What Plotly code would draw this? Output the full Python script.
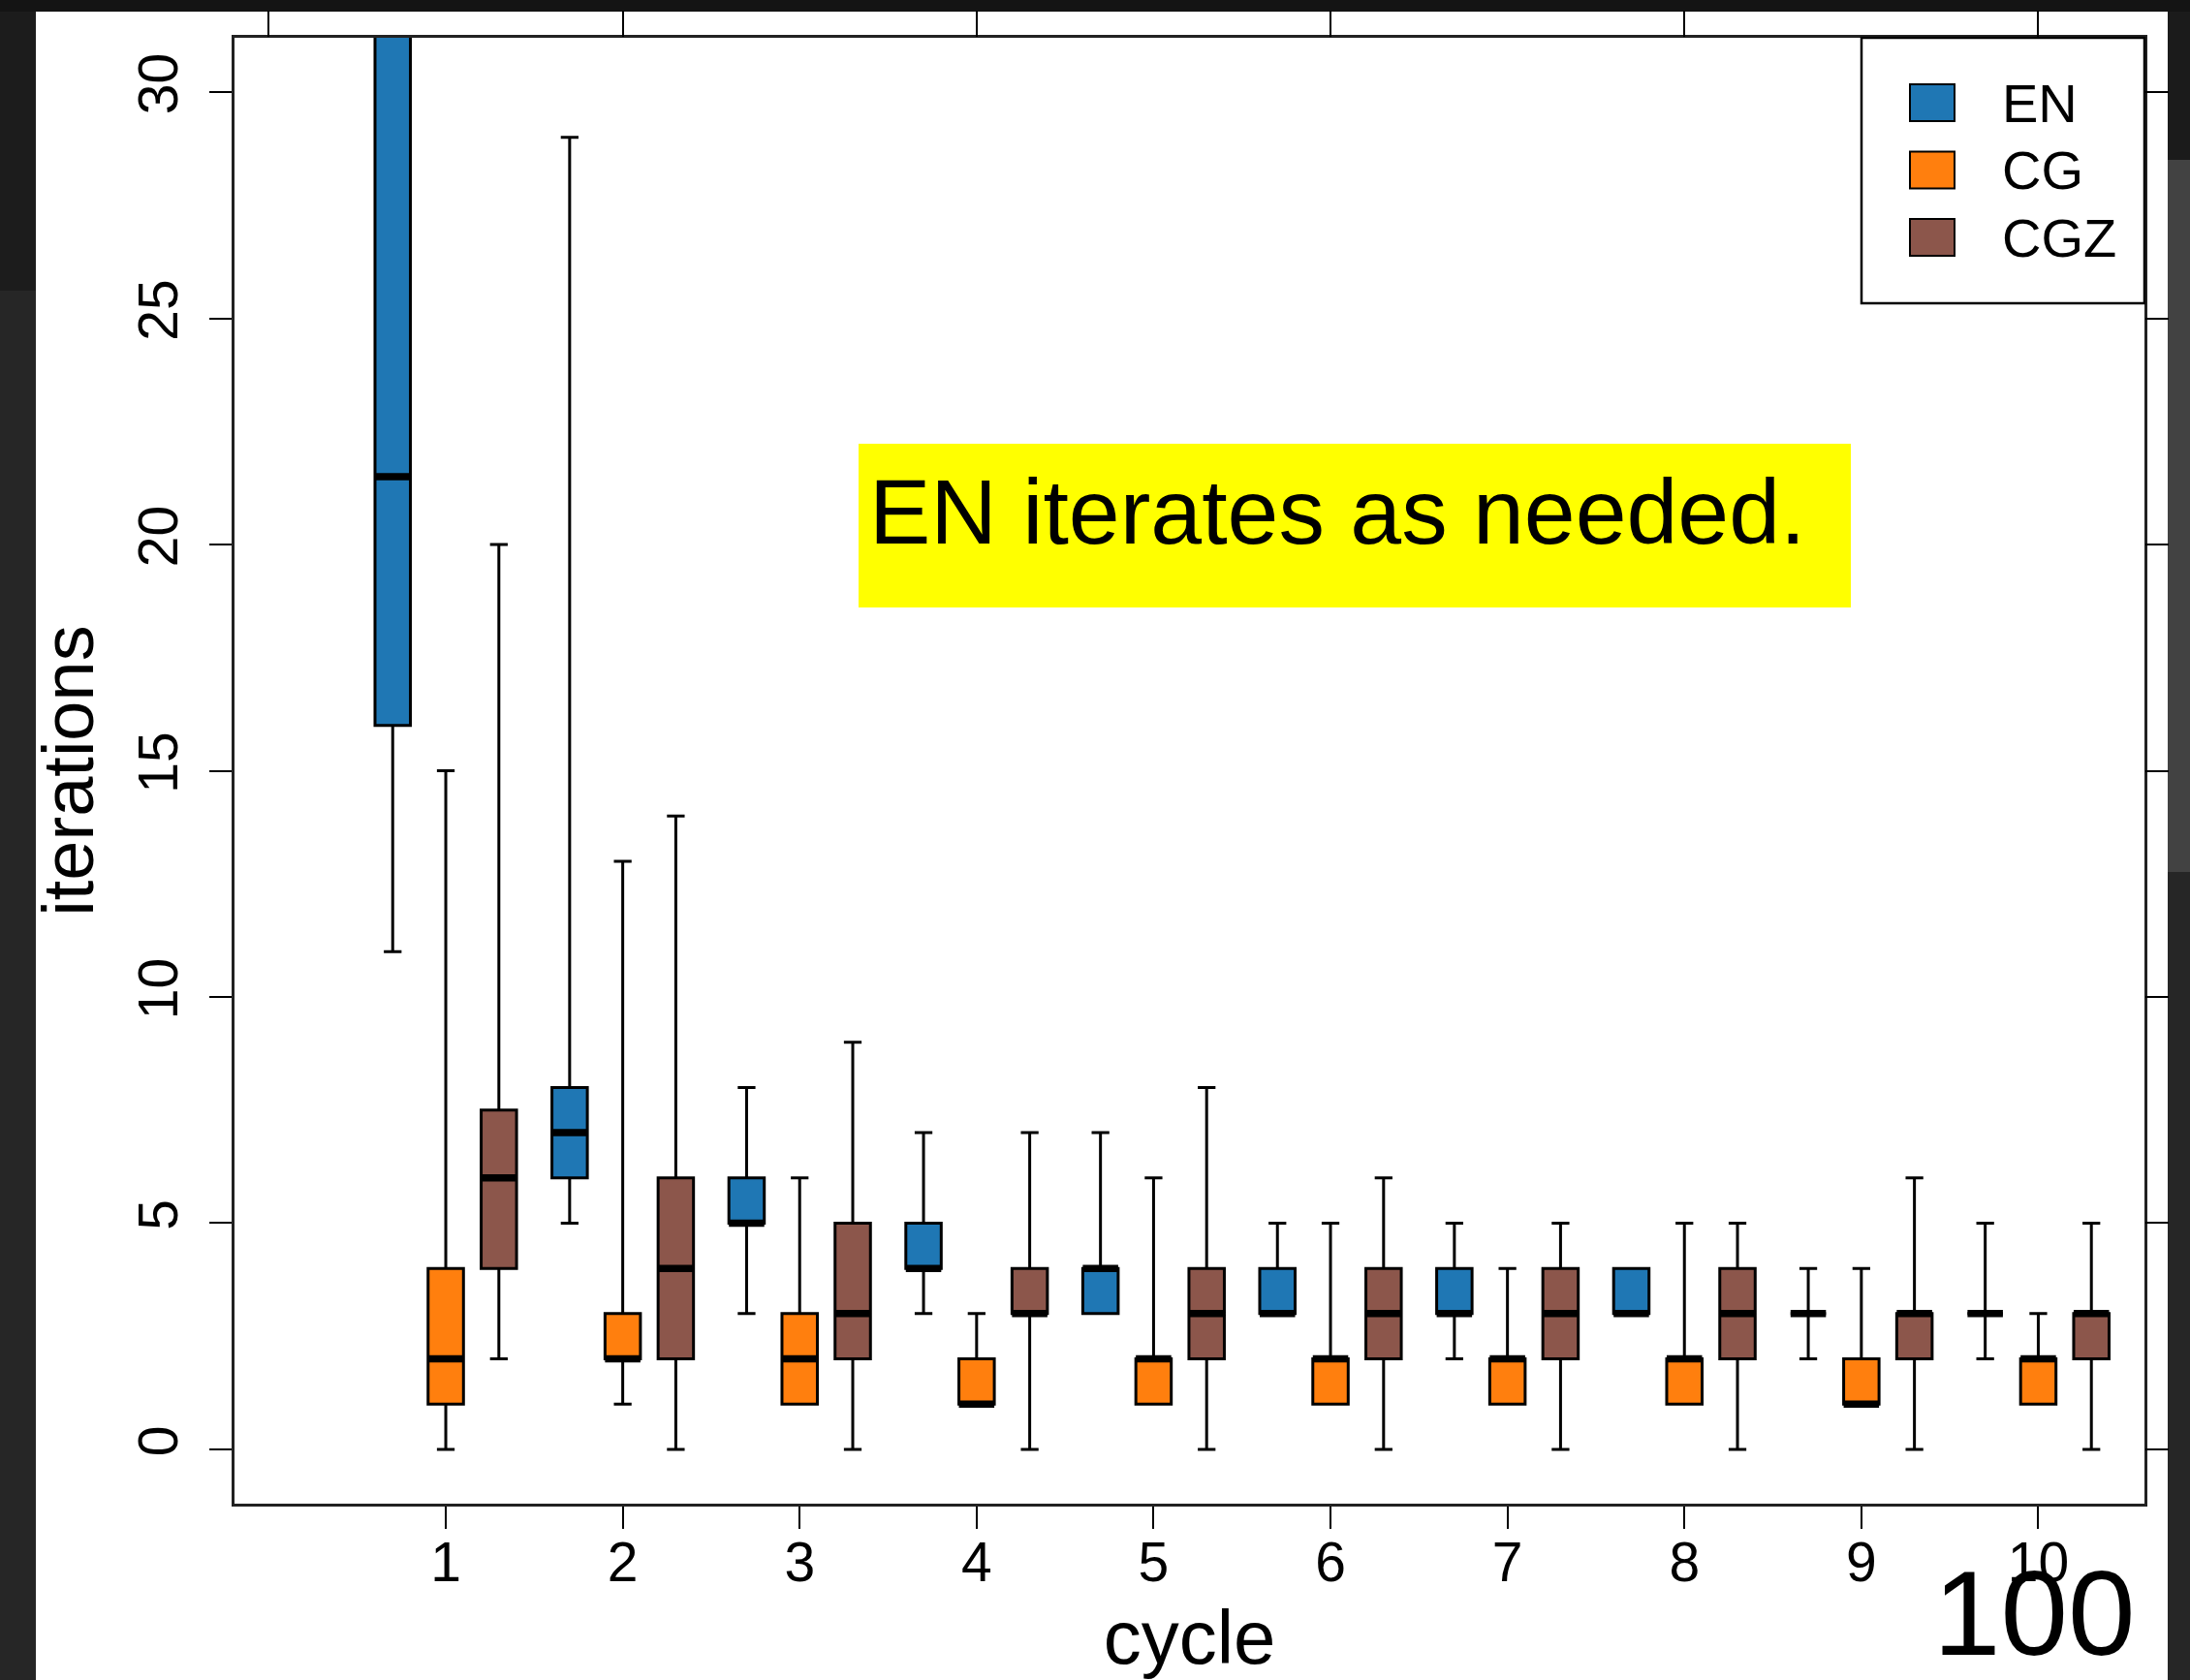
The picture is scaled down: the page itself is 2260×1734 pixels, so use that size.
import plotly.graph_objects as go

# ---- data: iteration counts per cycle, summarised as box statistics ----
cycles = [1, 2, 3, 4, 5, 6, 7, 8, 9, 10]
series = ["EN", "CG", "CGZ"]
colors = ["#1f77b4", "#ff7f0e", "#8c564b"]
offsets = [-0.3, 0.0, 0.3]

en_min = [11, 5, 3, 3, 3, 3, 2, 3, 2, 2]
en_q1 = [16, 6, 5, 4, 3, 3, 3, 3, 3, 3]
en_med = [21.5, 7, 5, 4, 4, 3, 3, 3, 3, 3]
en_q3 = [34, 8, 6, 5, 4, 4, 4, 4, 3, 3]
en_max = [40, 29, 8, 7, 7, 5, 5, 4, 4, 5]

cg_min = [0, 1, 1, 1, 1, 1, 1, 1, 1, 1]
cg_q1 = [1, 2, 1, 1, 1, 1, 1, 1, 1, 1]
cg_med = [2, 2, 2, 1, 2, 2, 2, 2, 1, 2]
cg_q3 = [4, 3, 3, 2, 2, 2, 2, 2, 2, 2]
cg_max = [15, 13, 6, 3, 6, 5, 4, 5, 4, 3]

cgz_min = [2, 0, 0, 0, 0, 0, 0, 0, 0, 0]
cgz_q1 = [4, 2, 2, 3, 2, 2, 2, 2, 2, 2]
cgz_med = [6, 4, 3, 3, 3, 3, 3, 3, 3, 3]
cgz_q3 = [7.5, 6, 5, 4, 4, 4, 4, 4, 3, 3]
cgz_max = [20, 14, 9, 7, 8, 6, 5, 5, 6, 5]

x_ticks = [1, 2, 3, 4, 5, 6, 7, 8, 9, 10]
y_ticks = [0, 5, 10, 15, 20, 25, 30]
top_ticks = [0, 2, 4, 6, 8, 10]
x_range = [-0.194, 10.6]
y_range = [-1.2, 31.2]

stats = {
    "EN": (en_min, en_q1, en_med, en_q3, en_max),
    "CG": (cg_min, cg_q1, cg_med, cg_q3, cg_max),
    "CGZ": (cgz_min, cgz_q1, cgz_med, cgz_q3, cgz_max),
}

# ---- canvas geometry (pixels) ----
W, H = 2260, 1734
PL, PR, PT, PB = 242, 2213, 39, 1552
BOX_W = 0.2
FONT = "Liberation Sans, Arial, Helvetica, sans-serif"


def px_x(px):
    return (px - PL) / (PR - PL)


def px_y(py):
    return (PB - py) / (PB - PT)


fig = go.Figure()

for name, color, off in zip(series, colors, offsets):
    lo, q1, med, q3, hi = stats[name]
    pos = [c + off for c in cycles]
    fig.add_trace(go.Box(
        x=pos, q1=q1, median=med, q3=q3, lowerfence=lo, upperfence=hi,
        name=name, width=BOX_W, whiskerwidth=0.5, boxpoints=False,
        fillcolor=color, line=dict(color="black", width=3),
        showlegend=False, hoverinfo="skip",
    ))

# heavy median bars drawn over each box
for name, off in zip(series, offsets):
    med = stats[name][2]
    mx, my = [], []
    for c, m in zip(cycles, med):
        mx += [c + off - BOX_W / 2, c + off + BOX_W / 2, None]
        my += [m, m, None]
    fig.add_trace(go.Scatter(
        x=mx, y=my, mode="lines", line=dict(color="black", width=7.5),
        showlegend=False, hoverinfo="skip",
    ))

# empty trace so the secondary (tick-only) axes are laid out
fig.add_trace(go.Scatter(x=[], y=[], xaxis="x2", yaxis="y2",
                         showlegend=False, hoverinfo="skip"))

shapes = [
    # slide background bands
    dict(type="rect", xref="paper", yref="paper", layer="below",
         x0=px_x(0), x1=px_x(W), y0=px_y(12), y1=px_y(0),
         fillcolor="#141414", line=dict(width=0)),
    dict(type="rect", xref="paper", yref="paper", layer="below",
         x0=px_x(2237), x1=px_x(W), y0=px_y(900), y1=px_y(165),
         fillcolor="#424242", line=dict(width=0)),
    dict(type="rect", xref="paper", yref="paper", layer="below",
         x0=px_x(2237), x1=px_x(W), y0=px_y(165), y1=px_y(12),
         fillcolor="#1b1b1b", line=dict(width=0)),
    dict(type="rect", xref="paper", yref="paper", layer="below",
         x0=px_x(0), x1=px_x(37), y0=px_y(300), y1=px_y(12),
         fillcolor="#1c1c1c", line=dict(width=0)),
    # white slide area
    dict(type="rect", xref="paper", yref="paper", layer="below",
         x0=px_x(37), x1=px_x(2237), y0=px_y(H + 5), y1=px_y(12),
         fillcolor="white", line=dict(width=0)),
    # highlighted note
    dict(type="rect", xref="paper", yref="paper", layer="above",
         x0=px_x(886), x1=px_x(1910), y0=px_y(627), y1=px_y(458),
         fillcolor="#ffff00", line=dict(width=0)),
    # legend frame
    dict(type="rect", xref="paper", yref="paper", layer="above",
         x0=px_x(1921), x1=1, y0=px_y(313), y1=1,
         fillcolor="white", line=dict(color="black", width=2.5)),
]

annotations = [
    dict(text="EN iterates as needed.", xref="paper", yref="paper",
         x=px_x(895), y=px_y(528), xanchor="left", yanchor="middle",
         showarrow=False, font=dict(family=FONT, size=95, color="black")),
    dict(text="100", xref="paper", yref="paper",
         x=px_x(2206), y=px_y(1664), xanchor="right", yanchor="middle",
         showarrow=False, font=dict(family=FONT, size=125, color="black")),
]

# legend swatches and labels
for i, (name, color) in enumerate(zip(series, colors)):
    cy = 106 + 69.5 * i
    shapes.append(dict(type="rect", xref="paper", yref="paper", layer="above",
                       x0=px_x(1971), x1=px_x(2017),
                       y0=px_y(cy + 19), y1=px_y(cy - 19),
                       fillcolor=color, line=dict(color="black", width=2)))
    annotations.append(dict(text=name, xref="paper", yref="paper",
                            x=px_x(2064), y=px_y(cy), xanchor="left",
                            yanchor="middle", showarrow=False,
                            font=dict(family=FONT, size=56, color="black")))

fig.update_layout(
    width=W, height=H,
    margin=dict(l=PL, r=W - PR, t=PT, b=H - PB, pad=0, autoexpand=False),
    paper_bgcolor="#262626", plot_bgcolor="white",
    boxmode="overlay",
    showlegend=False,
    font=dict(family=FONT, color="black"),
    shapes=shapes, annotations=annotations,
    xaxis=dict(
        range=x_range, tickmode="array", tickvals=x_ticks,
        ticktext=[str(t) for t in x_ticks], automargin=False,
        ticks="outside", ticklen=23, tickwidth=2, tickcolor="black",
        tickfont=dict(family=FONT, size=57, color="black"),
        ticklabelstandoff=-14,
        showgrid=False, zeroline=False,
        showline=True, mirror=True, linecolor="#222222", linewidth=2.5,
        title=dict(text="cycle", font=dict(family=FONT, size=78, color="black"),
                   standoff=46),
    ),
    yaxis=dict(
        range=y_range, tickmode="array", tickvals=y_ticks,
        ticktext=[str(t) for t in y_ticks], automargin=False,
        ticks="outside", ticklen=23, tickwidth=2, tickcolor="black",
        tickangle=-90,
        tickfont=dict(family=FONT, size=57, color="black"),
        ticklabelstandoff=10,
        showgrid=False, zeroline=False,
        showline=True, mirror=True, linecolor="#222222", linewidth=2.5,
        title=dict(text="iterations", font=dict(family=FONT, size=74, color="black"),
                   standoff=11),
    ),
    xaxis2=dict(
        overlaying="x", side="top", anchor="y", range=x_range,
        tickmode="array", tickvals=top_ticks, showticklabels=False,
        ticks="outside", ticklen=27, tickwidth=2, tickcolor="black",
        showgrid=False, zeroline=False, showline=False, automargin=False,
    ),
    yaxis2=dict(
        overlaying="y", side="right", anchor="x", range=y_range,
        tickmode="array", tickvals=y_ticks, showticklabels=False,
        ticks="outside", ticklen=24, tickwidth=2, tickcolor="black",
        showgrid=False, zeroline=False, showline=False, automargin=False,
    ),
)

fig.write_html("out.html")
